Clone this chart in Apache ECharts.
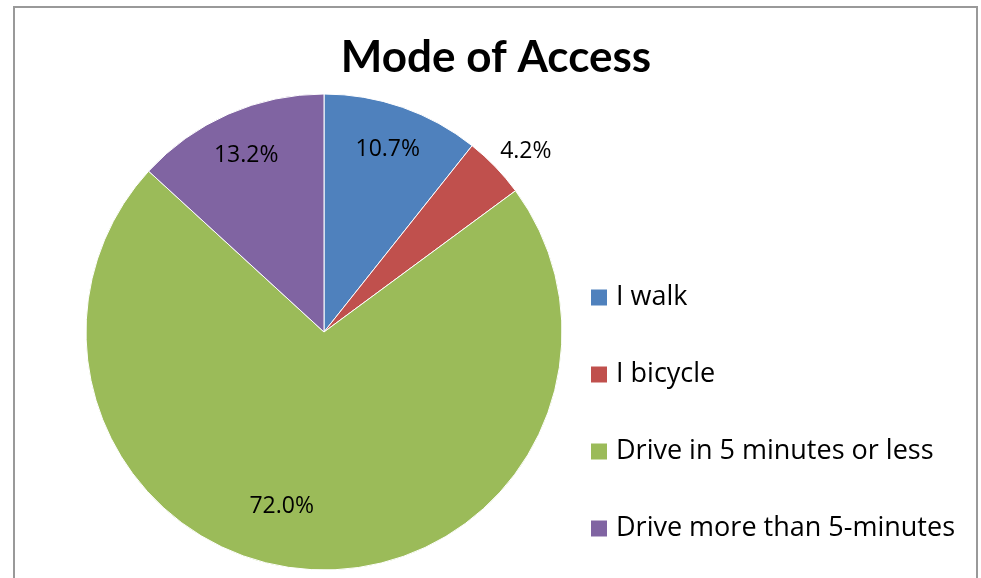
<!DOCTYPE html>
<html>
<head>
<meta charset="utf-8">
<script src="https://cdn.jsdelivr.net/npm/echarts@6/dist/echarts.min.js"></script>
<style>
  html, body { margin: 0; padding: 0; background: #fff; }
  #chart { width: 981px; height: 578px; }
</style>
</head>
<body>
<div id="chart"></div>
<script>
// data
var categories = ['I walk', 'I bicycle', 'Drive in 5 minutes or less', 'Drive more than 5-minutes'];
var shares = [10.7, 4.2, 72.0, 13.2];
var colors = ['#4F81BD', '#C0504D', '#9BBB59', '#8064A2'];

var FONT = 'Open Sans';
var center = [324, 332];
var R = 238;

var chart = echarts.init(document.getElementById('chart'));

var pieData = categories.map(function (c, i) {
  return { name: c, value: shares[i], itemStyle: { color: colors[i] } };
});

// label layer: transparent ring so the inside labels sit near the rim like in excel
var labelData = categories.map(function (c, i) {
  var d = { name: c, value: shares[i], itemStyle: { color: 'rgba(0,0,0,0)' } };
  if (shares[i] < 6) {
    d.label = { position: 'outside', offset: [-3, -13] };
    d.labelLine = { show: false, length: 4, length2: 0 };
  }
  if (shares[i] > 50) {
    d.label = { offset: [-32, -19] };
  }
  return d;
});

chart.setOption({
  backgroundColor: '#fff',
  animation: false,
  title: {
    text: 'Mode of Access',
    left: 496,
    top: 36,
    padding: 0,
    textAlign: 'center',
    textStyle: { fontFamily: 'Lato', fontWeight: 'bold', fontSize: 44, color: '#000' }
  },
  legend: {
    orient: 'vertical',
    left: 589,
    top: 284,
    padding: 0,
    itemWidth: 18,
    itemHeight: 18,
    itemGap: 50,
    icon: 'rect',
    data: categories,
    textStyle: { fontFamily: FONT, fontSize: 27, color: '#000', lineHeight: 24, padding: [0, 0, 0, 3] }
  },
  graphic: [{
    type: 'rect',
    shape: { x: 14, y: 7, width: 963, height: 600 },
    style: { fill: 'none', stroke: '#999', lineWidth: 2 },
    silent: true
  }],
  series: [
    {
      type: 'pie',
      center: center,
      radius: [0, R],
      startAngle: 90,
      clockwise: true,
      legendHoverLink: false,
      label: { show: false },
      labelLine: { show: false },
      itemStyle: { borderColor: '#fff', borderWidth: 1 },
      data: pieData
    },
    {
      type: 'pie',
      center: center,
      radius: [R * 0.6, R],
      startAngle: 90,
      clockwise: true,
      silent: true,
      label: {
        show: true,
        position: 'inside',
        formatter: function (p) { return p.value.toFixed(1) + '%'; },
        fontFamily: FONT,
        fontSize: 23,
        color: '#000'
      },
      data: labelData
    }
  ]
});
</script>
</body>
</html>
